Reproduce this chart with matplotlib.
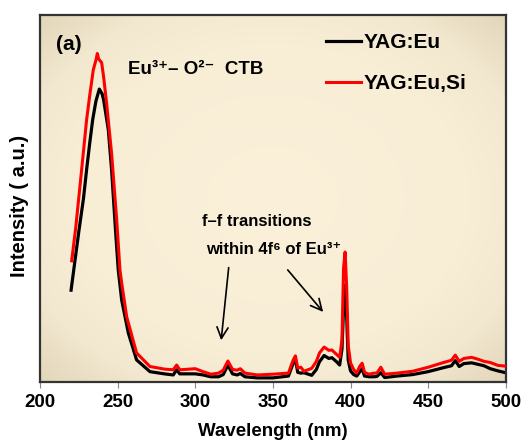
import numpy as np
import matplotlib
matplotlib.use("Agg")
import matplotlib.pyplot as plt
from matplotlib.colors import LinearSegmentedColormap

plt.rcParams['font.family'] = ['Liberation Sans', 'DejaVu Sans']
plt.rcParams['font.weight'] = 'bold'

# spectral tail shared by both samples (wavelengths, nm)
wl_tail = [290, 300, 305, 310, 315, 318, 321, 324, 327, 329,
           332, 340, 350, 360, 363, 364.5, 366, 368, 370, 375, 378, 380, 383, 386, 388,
           391, 393, 394.5, 395.5, 396.5, 397.5, 398.5, 400, 402, 404, 406, 407.5, 409,
           412, 415, 417, 419.5, 422, 430, 440, 450, 460, 465, 467.5, 470, 473, 478,
           482, 486, 490, 495, 500]

# YAG:Eu (black)
wl_eu = [220, 222.5, 225, 228, 230, 232, 233.9, 236, 238.2, 240, 241, 244, 246.1, 248.9,
         250.4, 252.6, 256.9, 262.2, 270.8, 280, 285.8, 288] + wl_tail
int_eu = [25.0, 33.0, 41.0, 50.0, 57.8, 65.0, 71.4, 76.5, 79.8, 78.5, 76.8, 68.7, 57.8, 39.6,
          30.5, 22.3, 13.3, 6.0, 2.8, 2.2, 1.9, 3.3,
          2.2, 2.2, 1.9, 1.4, 1.4, 2.0, 4.6, 2.2, 1.9, 2.3,
          1.4, 1.1, 1.1, 1.6, 5.0, 6.2, 2.6, 2.4, 2.5, 1.8, 3.4, 5.5, 7.2, 6.4, 6.6,
          5.5, 4.6, 9.0, 20.0, 26.4, 18.0, 6.0, 3.0, 2.0, 1.6, 2.8, 3.6, 1.6,
          1.4, 1.4, 1.5, 2.5, 1.2, 1.6, 2.0, 2.8, 3.9, 4.4, 5.8, 4.2, 5.0, 5.2,
          4.8, 4.4, 3.6, 3.0, 2.5]

# YAG:Eu,Si (red)
wl_si = [220.4, 223, 226.8, 230, 232, 234.3, 236.2, 236.9, 237.8, 239.7, 241, 242.9, 246.1,
         249.4, 251.5, 252.6, 255.8, 262.2, 270.8, 280, 285.8, 288] + wl_tail
int_si = [33.0, 42.0, 57.8, 71.4, 78.0, 85.0, 88.0, 89.5, 88.0, 87.0, 83.0, 75.9, 62.3,
          44.1, 30.5, 27.0, 17.8, 7.9, 4.2, 3.5, 3.3, 4.6,
          3.3, 3.6, 2.8, 2.1, 2.4, 3.2, 5.7, 3.4, 3.2, 3.6,
          2.4, 1.9, 2.1, 2.4, 5.9, 7.1, 3.8, 4.0, 2.9, 3.7, 5.6, 7.9, 9.5, 8.6, 8.7,
          7.5, 6.7, 11.5, 31.0, 35.4, 26.0, 10.0, 5.2, 3.4, 2.4, 4.3, 5.1, 2.6,
          2.1, 2.4, 2.4, 4.0, 2.1, 2.4, 2.9, 4.0, 5.3, 5.9, 7.3, 5.6, 6.4, 6.7,
          6.2, 5.6, 5.3, 4.5, 4.3]

xticks = [200, 250, 300, 350, 400, 450, 500]

fig = plt.figure(figsize=(5.21, 4.40), dpi=100)
ax = fig.add_axes([0.0768, 0.132, 0.894, 0.834])

# beige radial background, darker only towards the corners
gx, gy = np.meshgrid(np.linspace(-1, 1, 300), np.linspace(-1, 1, 300))
r = np.sqrt(gx ** 2 + gy ** 2)
cmap = LinearSegmentedColormap.from_list(
    'bg', [(0, '#FBF1DA'), (0.6, '#F8EED6'), (0.8, '#F2E8CF'), (1.0, '#E2D6BA')])
ax.imshow(r, cmap=cmap, extent=[0, 1, 0, 1], transform=ax.transAxes,
          aspect='auto', zorder=0, vmin=0, vmax=1.414, origin='lower')

ax.plot(wl_eu, int_eu, color='black', lw=2.3, label='YAG:Eu', zorder=2)
ax.plot(wl_si, int_si, color='#FF0000', lw=2.2, label='YAG:Eu,Si', zorder=3)

ax.set_xlim(200, 500)
ax.set_ylim(0, 100)
ax.set_xticks(xticks)
ax.set_yticks([])
ax.tick_params(axis='x', direction='out', length=4, color='#888888', labelsize=13.5, pad=5)
for lab in ax.get_xticklabels():
    lab.set_fontweight('bold')
for s in ax.spines.values():
    s.set_color('#333333')
    s.set_linewidth(1.6)

ax.set_xlabel('Wavelength (nm)', fontsize=13.5, fontweight='bold', labelpad=8)
ax.set_ylabel('Intensity ( a.u.)', fontsize=14.5, fontweight='bold', va='center')
ax.yaxis.set_label_coords(-0.045, 0.48)

ax.text(0.035, 0.92, '(a)', transform=ax.transAxes, fontsize=15, fontweight='bold', va='center')
ax.text(0.188, 0.852, 'Eu³⁺– O²⁻  CTB', transform=ax.transAxes,
        fontsize=13.5, fontweight='bold', va='center')

leg = ax.legend(loc='upper left', bbox_to_anchor=(0.614, 0.95), frameon=False,
                fontsize=15, handlelength=1.7, handletextpad=0.1, labelspacing=1.05,
                borderpad=0, borderaxespad=0)
for t in leg.get_texts():
    t.set_fontweight('bold')

ax.text(0.465, 0.437, 'f–f transitions', transform=ax.transAxes, fontsize=12,
        fontweight='bold', ha='center', va='center')
ax.text(0.502, 0.36, 'within 4f⁶ of Eu³⁺', transform=ax.transAxes,
        fontsize=12, fontweight='bold', ha='center', va='center')

arr = dict(arrowstyle='->', color='black', lw=1.2, mutation_scale=20)
ax.annotate('', xy=(316.5, 10.6), xytext=(321.7, 31.9), arrowprops=arr)
ax.annotate('', xy=(383.5, 18.5), xytext=(358.4, 31.1), arrowprops=arr)

fig.savefig('out.png', dpi=100)
